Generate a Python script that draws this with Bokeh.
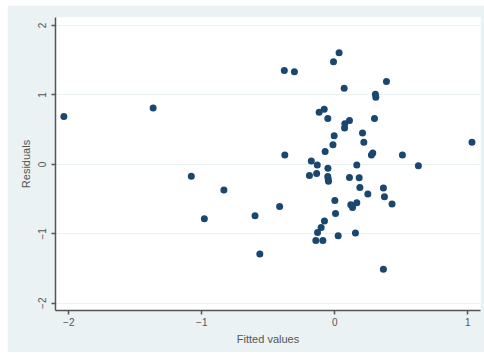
from bokeh.plotting import figure
from bokeh.models import FixedTicker, Range1d
from bokeh.embed import file_html
from bokeh.resources import INLINE

fitted = [-2.037, -1.366, -1.079, -0.981, -0.834, -0.600, -0.564, -0.415,
          -0.380, -0.304, -0.376, -0.177, -0.132, -0.191, -0.137, -0.118,
          -0.080, -0.053, -0.073, -0.014, -0.005, -0.052, -0.053, -0.050,
          -0.048, 0.032, -0.010, 0.070, 0.388, 0.305, 0.308, 0.110, 0.075,
          0.073, 0.298, 0.208, 0.218, 0.275, 0.285, 0.165, 0.110, 0.183,
          0.188, 0.248, 0.365, 0.373, 0.430, 0.000, 0.005, 0.120, 0.133,
          0.165, -0.078, -0.103, -0.130, -0.143, -0.090, 0.025, 0.155,
          0.365, 0.508, 0.628, 1.031]
residuals = [0.688, 0.812, -0.173, -0.782, -0.370, -0.740, -1.291, -0.608,
             1.352, 1.333, 0.133, 0.048, -0.011, -0.159, -0.132, 0.750,
             0.794, 0.660, 0.186, 0.282, 0.411, -0.055, -0.175, -0.210,
             -0.243, 1.607, 1.477, 1.097, 1.193, 1.010, 0.967, 0.631, 0.583,
             0.525, 0.659, 0.453, 0.318, 0.135, 0.164, -0.009, -0.188,
             -0.192, -0.332, -0.428, -0.341, -0.466, -0.572, -0.519, -0.707,
             -0.582, -0.620, -0.553, -0.817, -0.909, -0.981, -1.097, -1.097,
             -1.029, -0.990, -1.510, 0.135, -0.019, 0.317]
x_ticks = [-2, -1, 0, 1]
y_ticks = [-2, -1, 0, 1, 2]

bg = "#EAF2F3"
navy = "#1a476f"

p = figure(width=477, height=347, output_backend="svg", toolbar_location=None,
           x_range=Range1d(-2.10, 1.095), y_range=Range1d(-2.105, 2.115),
           min_border_left=48, min_border_right=4, min_border_top=12,
           min_border_bottom=42)
p.margin = (5, 0, 1, 7)
p.background_fill_color = "white"
p.border_fill_color = bg
p.outline_line_color = None

p.scatter(fitted, residuals, size=7, fill_color=navy, line_color=None)

p.xaxis.ticker = FixedTicker(ticks=x_ticks)
p.yaxis.ticker = FixedTicker(ticks=y_ticks)
p.xgrid.visible = False
p.ygrid.grid_line_color = bg
p.ygrid.grid_line_width = 1.2

for ax in (p.xaxis[0], p.yaxis[0]):
    ax.axis_line_color = "#555555"
    ax.axis_line_width = 1.5
    ax.major_tick_line_color = "#555555"
    ax.major_tick_line_width = 1.5
    ax.major_tick_out = 4
    ax.major_tick_in = 0
    ax.minor_tick_line_color = None
    ax.major_label_text_font = "Liberation Sans"
    ax.major_label_text_font_size = "10px"
    ax.major_label_text_color = "#555555"
    ax.axis_label_text_font = "Liberation Sans"
    ax.axis_label_text_font_size = "11px"
    ax.axis_label_text_font_style = "normal"
    ax.axis_label_text_color = "#555555"

p.xaxis.major_label_standoff = 3
p.xaxis.axis_label_standoff = 4
p.yaxis.major_label_standoff = 5
p.yaxis.axis_label_standoff = 4

p.xaxis.axis_label = "Fitted values"
p.yaxis.axis_label = "Residuals"
p.yaxis.major_label_orientation = "vertical"

open("out.html", "w").write(file_html(p, INLINE))
